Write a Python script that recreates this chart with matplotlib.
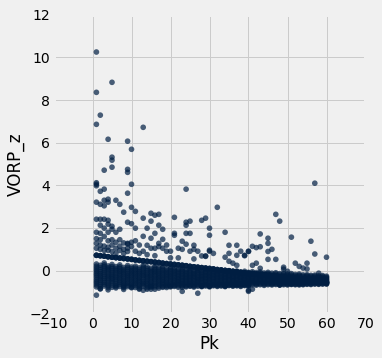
import matplotlib
matplotlib.use("Agg")
import matplotlib.pyplot as plt

plt.style.use("fivethirtyeight")

# scattered players well above the pack (Pk, VORP_z)
top_pk = [1, 5, 1, 2, 1, 13, 4, 9, 10, 5, 5, 5, 3, 9, 9, 1, 1, 1, 10, 3, 2, 9, 24,
          3, 4, 4, 6, 7, 1, 2, 3, 8, 10, 11, 13, 15, 16, 17, 15, 17, 14, 11, 16,
          21, 24, 24, 25, 28, 29, 32, 30, 30, 34, 21, 21, 24, 25, 18, 18, 13, 15,
          9, 10, 1, 2, 3, 4, 4, 5, 5, 7, 6, 4, 2, 1, 2, 3,
          47, 48, 51, 56, 57, 43, 45, 45]
top_vorp = [10.25, 8.83, 8.36, 7.29, 6.86, 6.72, 6.16, 6.07, 5.69, 5.32, 5.18, 4.85,
            4.71, 4.75, 4.61, 4.12, 4.05, 3.98, 4.05, 3.82, 3.72, 3.63, 3.82,
            3.30, 3.35, 3.21, 3.30, 3.11, 3.21, 3.11, 3.04, 2.74, 2.97, 2.78, 2.46,
            2.69, 2.60, 2.64, 2.32, 2.13, 1.99, 1.99, 1.75,
            2.50, 2.27, 2.13, 2.32, 2.36, 2.46, 2.97, 1.99, 1.66, 1.80, 1.75, 1.66,
            1.75, 1.75, 1.94, 1.47, 1.61, 1.52,
            2.27, 2.20, 2.41, 2.41, 2.41, 2.36, 2.18, 2.08, 1.94, 1.94, 1.80, 1.80,
            2.13, 1.80, 1.75, 1.99,
            2.64, 2.32, 1.57, 1.38, 4.10, 1.72, 1.52, 1.28]

# players between roughly 0.5 and 1.6
mid_pk = [1, 2, 3, 4, 5, 6, 7, 8, 9, 1, 2, 3, 4, 5, 6, 7, 8, 1, 2, 3, 4, 5, 7, 6, 8, 9,
          17, 17, 16, 14, 15, 13, 12, 10, 9, 10, 9, 11, 18, 19, 20, 12, 11, 14, 16, 19, 20,
          23, 24, 22, 23, 26, 26, 25, 27, 28, 29, 30, 30, 31, 29, 22, 26,
          35, 37, 35, 34, 35, 36, 37, 37, 38, 39, 40, 41, 42, 43, 40, 39, 46, 45,
          45, 47, 42, 41, 43, 49, 49, 57, 60, 52, 53, 54, 55, 55, 58, 50]
mid_vorp = [1.50, 1.45, 1.60, 1.40, 1.45, 1.33, 1.45, 1.30, 1.25, 1.28, 1.20, 1.15,
            1.10, 1.20, 1.05, 1.15, 1.00, 1.05, 1.00, 0.95, 0.95, 0.90, 0.95, 0.80,
            0.80, 0.90,
            1.28, 1.13, 1.05, 1.19, 1.05, 0.91, 0.81, 1.33, 1.28, 1.13, 1.05, 0.91,
            1.05, 0.91, 0.91, 1.20, 1.40, 0.75, 0.70, 1.20, 0.60,
            1.38, 1.24, 1.05, 1.00, 1.19, 1.00, 0.91, 0.91, 0.69, 0.69, 0.91, 0.96,
            0.81, 0.67, 0.60, 0.55,
            1.19, 1.19, 0.81, 0.63, 0.44, 0.35, 0.72, 0.25, 0.91, 0.72, 0.91, 1.14,
            1.08, 1.12, 0.90, 0.70, 1.00, 0.90,
            0.53, 0.53, 0.35, 0.25, 0.11, 0.16, 0.07, 0.78, 0.63, 0.35, 0.20, 0.12,
            0.35, 0.08, -0.12, -0.03]

# stragglers under the pack
low_pk = [1, 27, 40, 41, 40, 23, 23, 25, 28, 20, 12, 13, 14, 15, 16, 18, 10, 34,
          48, 53, 51, 30, 37, 4, 8, 2]
low_vorp = [-1.15, -1.06, -0.97, -0.87, -0.92, -0.97, -0.78, -0.73, -0.73, -0.73,
            -0.87, -0.92, -0.87, -0.87, -0.87, -0.78, -0.78, -0.72, -0.67, -0.67,
            -0.62, -0.73, -0.64, -0.90, -0.88, -0.85]

# the dense pack, one row per pick (1..60)
band_rows = [
    [0.31, 0.12, -0.05, -0.22, -0.41, -0.58, -0.76],
    [0.25, 0.04, -0.14, -0.30, -0.47, -0.66, -0.85],
    [0.36, 0.18, -0.01, -0.19, -0.37, -0.55, -0.72],
    [0.22, 0.07, -0.11, -0.28, -0.44, -0.63, -0.80],
    [0.29, 0.10, -0.08, -0.25, -0.40, -0.57, -0.78],
    [0.19, 0.02, -0.16, -0.33, -0.50, -0.69, -0.81],
    [0.27, 0.09, -0.06, -0.23, -0.39, -0.56, -0.74],
    [0.15, -0.02, -0.18, -0.35, -0.52, -0.68, -0.80],
    [0.24, 0.06, -0.12, -0.27, -0.43, -0.60, -0.75],
    [0.17, 0.01, -0.15, -0.31, -0.48, -0.65, -0.80],
    [0.21, 0.03, -0.13, -0.29, -0.46, -0.62, -0.79],
    [0.13, -0.04, -0.20, -0.36, -0.51, -0.67, -0.83],
    [0.26, 0.08, -0.09, -0.24, -0.42, -0.59, -0.73],
    [0.18, 0.00, -0.17, -0.32, -0.49, -0.64, -0.80],
    [0.11, -0.05, -0.21, -0.37, -0.53, -0.70, -0.77],
    [0.23, 0.05, -0.10, -0.26, -0.43, -0.61, -0.76],
    [0.14, -0.03, -0.19, -0.34, -0.50, -0.66, -0.82],
    [0.20, 0.02, -0.14, -0.30, -0.45, -0.60, -0.74],
    [0.09, -0.07, -0.22, -0.38, -0.54, -0.68, -0.79],
    [0.16, -0.01, -0.16, -0.31, -0.47, -0.63, -0.76],
    [0.12, -0.04, -0.19, -0.35, -0.50, -0.66, -0.74],
    [0.07, -0.08, -0.23, -0.38, -0.52, -0.64, -0.78],
    [0.14, -0.02, -0.17, -0.32, -0.47, -0.61, -0.72],
    [0.05, -0.10, -0.25, -0.39, -0.53, -0.67, -0.76],
    [0.11, -0.05, -0.20, -0.34, -0.48, -0.62, -0.71],
    [0.03, -0.12, -0.26, -0.40, -0.55, -0.68, -0.77],
    [0.09, -0.06, -0.21, -0.36, -0.49, -0.63, -0.73],
    [0.01, -0.14, -0.28, -0.41, -0.56, -0.69, -0.75],
    [0.06, -0.09, -0.23, -0.37, -0.51, -0.64, -0.72],
    [-0.01, -0.15, -0.29, -0.43, -0.57, -0.70, -0.76],
    [0.04, -0.11, -0.24, -0.38, -0.52, -0.65, -0.71],
    [-0.03, -0.17, -0.30, -0.44, -0.58, -0.68, -0.74],
    [0.02, -0.12, -0.26, -0.39, -0.53, -0.66, -0.72],
    [-0.04, -0.18, -0.31, -0.45, -0.59, -0.69, -0.75],
    [0.00, -0.14, -0.27, -0.40, -0.54, -0.65, -0.70],
    [-0.06, -0.19, -0.32, -0.46, -0.58, -0.68, -0.73],
    [-0.02, -0.15, -0.28, -0.41, -0.55, -0.66, -0.71],
    [-0.07, -0.20, -0.33, -0.47, -0.59, -0.67, -0.74],
    [-0.03, -0.16, -0.29, -0.42, -0.55, -0.65, -0.70],
    [-0.08, -0.21, -0.34, -0.47, -0.58, -0.68, -0.72],
    [-0.05, -0.18, -0.31, -0.44, -0.56, -0.66],
    [-0.09, -0.22, -0.35, -0.48, -0.59, -0.68],
    [-0.06, -0.19, -0.32, -0.45, -0.57, -0.66],
    [-0.11, -0.23, -0.36, -0.48, -0.60, -0.69],
    [-0.08, -0.20, -0.33, -0.46, -0.58, -0.66],
    [-0.12, -0.25, -0.37, -0.49, -0.60, -0.67],
    [-0.10, -0.22, -0.35, -0.47, -0.58, -0.65],
    [-0.14, -0.26, -0.38, -0.50, -0.61, -0.68],
    [-0.12, -0.24, -0.36, -0.48, -0.59, -0.66],
    [-0.16, -0.28, -0.39, -0.51, -0.61, -0.67],
    [-0.14, -0.26, -0.37, -0.49, -0.60, -0.65],
    [-0.18, -0.29, -0.40, -0.51, -0.61, -0.66],
    [-0.16, -0.27, -0.38, -0.49, -0.59, -0.64],
    [-0.20, -0.31, -0.42, -0.52, -0.61, -0.66],
    [-0.19, -0.29, -0.40, -0.50, -0.59, -0.64],
    [-0.22, -0.32, -0.42, -0.52, -0.60, -0.65],
    [-0.21, -0.31, -0.41, -0.50, -0.58, -0.63],
    [-0.24, -0.33, -0.43, -0.52, -0.60, -0.64],
    [-0.23, -0.32, -0.42, -0.51, -0.58, -0.63],
    [-0.26, -0.35, -0.44, -0.52, -0.59, -0.63],
]

# more of the pack, same picks, sitting between the first set
band_rows_b = [
    [0.21, 0.03, -0.14, -0.31, -0.50, -0.67],
    [0.15, -0.05, -0.22, -0.39, -0.57, -0.75],
    [0.27, 0.08, -0.10, -0.28, -0.46, -0.64],
    [0.14, -0.02, -0.20, -0.36, -0.54, -0.71],
    [0.19, 0.01, -0.17, -0.33, -0.49, -0.68],
    [0.10, -0.07, -0.25, -0.42, -0.60, -0.75],
    [0.18, 0.00, -0.15, -0.31, -0.48, -0.65],
    [0.06, -0.10, -0.27, -0.44, -0.60, -0.74],
    [0.15, -0.03, -0.20, -0.35, -0.52, -0.68],
    [0.09, -0.07, -0.23, -0.40, -0.57, -0.72],
    [0.12, -0.05, -0.21, -0.38, -0.54, -0.70],
    [0.05, -0.12, -0.28, -0.44, -0.59, -0.75],
    [0.17, -0.01, -0.17, -0.33, -0.51, -0.66],
    [0.09, -0.09, -0.25, -0.41, -0.57, -0.72],
    [0.03, -0.13, -0.29, -0.45, -0.62, -0.74],
    [0.14, -0.03, -0.18, -0.35, -0.52, -0.69],
    [0.06, -0.11, -0.27, -0.42, -0.58, -0.74],
    [0.11, -0.06, -0.22, -0.38, -0.53, -0.67],
    [0.01, -0.15, -0.30, -0.46, -0.61, -0.73],
    [0.08, -0.09, -0.24, -0.39, -0.55, -0.70],
    [0.04, -0.12, -0.27, -0.43, -0.58, -0.70],
    [-0.01, -0.16, -0.31, -0.45, -0.58, -0.71],
    [0.06, -0.10, -0.25, -0.40, -0.54, -0.67],
    [-0.03, -0.18, -0.32, -0.46, -0.60, -0.72],
    [0.03, -0.13, -0.27, -0.41, -0.55, -0.67],
    [-0.05, -0.19, -0.33, -0.48, -0.62, -0.73],
    [0.01, -0.14, -0.29, -0.43, -0.56, -0.68],
    [-0.07, -0.21, -0.35, -0.49, -0.63, -0.72],
    [-0.02, -0.16, -0.30, -0.44, -0.58, -0.68],
    [-0.08, -0.22, -0.36, -0.50, -0.64, -0.73],
    [-0.04, -0.18, -0.31, -0.45, -0.59, -0.68],
    [-0.10, -0.24, -0.37, -0.51, -0.63, -0.71],
    [-0.05, -0.19, -0.33, -0.46, -0.60, -0.69],
    [-0.11, -0.25, -0.38, -0.52, -0.64, -0.72],
    [-0.07, -0.21, -0.34, -0.47, -0.60, -0.68],
    [-0.13, -0.26, -0.39, -0.52, -0.63, -0.70],
    [-0.09, -0.22, -0.35, -0.48, -0.61, -0.69],
    [-0.14, -0.27, -0.40, -0.53, -0.63, -0.71],
    [-0.10, -0.23, -0.36, -0.49, -0.60, -0.68],
    [-0.15, -0.28, -0.41, -0.53, -0.63, -0.70],
    [-0.12, -0.25, -0.38, -0.50, -0.61],
    [-0.16, -0.29, -0.42, -0.54, -0.64],
    [-0.13, -0.26, -0.39, -0.51, -0.62],
    [-0.17, -0.30, -0.42, -0.54, -0.65],
    [-0.14, -0.27, -0.40, -0.52, -0.62],
    [-0.19, -0.31, -0.43, -0.55, -0.64],
    [-0.16, -0.29, -0.41, -0.53, -0.62],
    [-0.20, -0.32, -0.44, -0.56, -0.65],
    [-0.18, -0.30, -0.42, -0.54, -0.63],
    [-0.22, -0.34, -0.45, -0.56, -0.64],
    [-0.20, -0.32, -0.43, -0.55, -0.63],
    [-0.24, -0.35, -0.46, -0.56, -0.64],
    [-0.22, -0.33, -0.44, -0.54, -0.62],
    [-0.26, -0.37, -0.47, -0.57, -0.64],
    [-0.24, -0.35, -0.45, -0.55, -0.62],
    [-0.27, -0.37, -0.47, -0.56, -0.63],
    [-0.26, -0.36, -0.46, -0.54, -0.61],
    [-0.29, -0.38, -0.48, -0.56, -0.62],
    [-0.28, -0.37, -0.47, -0.55, -0.61],
    [-0.31, -0.40, -0.48, -0.56, -0.61],
]

# tied players (zero VORP) -> the sloping ridge, several per pick
ridge_vorp = [0.72, 0.70, 0.68, 0.65, 0.63, 0.61, 0.59, 0.57, 0.55, 0.53,
              0.50, 0.48, 0.46, 0.44, 0.42, 0.40, 0.38, 0.35, 0.33, 0.31,
              0.29, 0.27, 0.25, 0.23, 0.20, 0.18, 0.16, 0.14, 0.12, 0.10,
              0.08, 0.05, 0.03, 0.01, -0.01, -0.03, -0.05, -0.08, -0.10, -0.12,
              -0.14, -0.16, -0.18, -0.20, -0.23, -0.25, -0.27, -0.29, -0.31, -0.33,
              -0.35, -0.38, -0.40, -0.42, -0.44, -0.46, -0.48, -0.50, -0.53, -0.55]
ridge_ties = 3

pk, vorp = [], []
for xs, ys in [(top_pk, top_vorp), (mid_pk, mid_vorp), (low_pk, low_vorp)]:
    pk += xs
    vorp += ys
for rows in (band_rows, band_rows_b):
    for i, row in enumerate(rows):
        pk += [i + 1] * len(row)
        vorp += row
for i, v in enumerate(ridge_vorp):
    pk += [i + 1] * ridge_ties
    vorp += [v] * ridge_ties

fig = plt.figure(figsize=(382 / 72, 358 / 72), dpi=72, facecolor="#f0f0f0")
ax = fig.add_axes([53.5 / 382, 44.7 / 358, 312 / 382, 298.6 / 358])
ax.scatter(pk, vorp, s=32, color=(0, 30 / 256, 66 / 256), alpha=0.7, edgecolors="none")
ax.set_xlim(-10, 70)
ax.set_ylim(-2, 12)
ax.set_xticks(range(-10, 71, 10))
ax.set_yticks(range(-2, 13, 2))
ax.set_xlabel("Pk")
ax.set_ylabel("VORP_z")
fig.savefig("out.png", dpi=72, facecolor=fig.get_facecolor())
